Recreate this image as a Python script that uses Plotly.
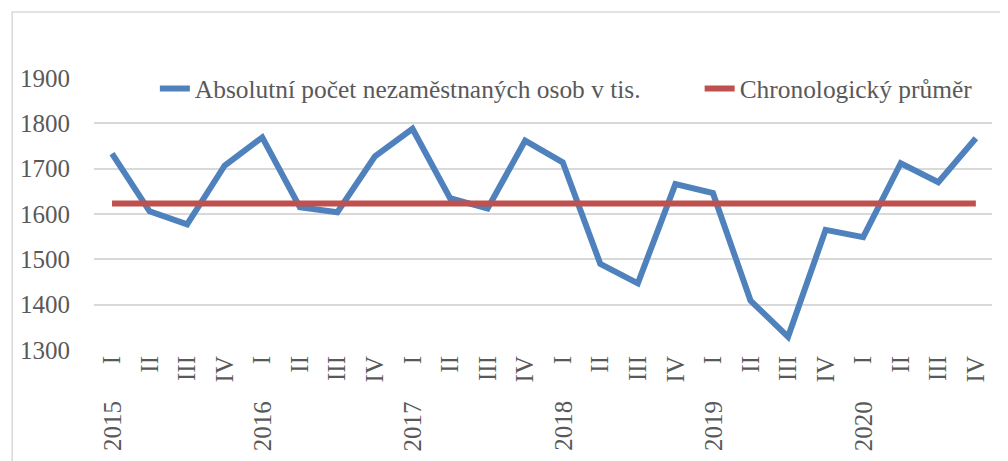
import plotly.graph_objects as go

years = ["2015", "2016", "2017", "2018", "2019", "2020"]
quarters = ["I", "II", "III", "IV"]
unemployed = [1733, 1606, 1577, 1707,
              1769, 1615, 1604, 1727,
              1788, 1635, 1612, 1762,
              1714, 1490, 1447, 1666,
              1646, 1409, 1329, 1565,
              1549, 1712, 1670, 1767]
chrono_mean = 1623

categories = [f"{y} {q}" for y in years for q in quarters]
tick_text = [q for y in years for q in quarters]
mean_series = [chrono_mean] * len(categories)

FONT = "Liberation Serif"
GRAY = "#595959"

# page body has an 8px margin; figure coordinates are screen coordinates minus 8
OFF = 8
W, H = 1008 - OFF, 461 - OFF
L, T, R, B = 92 - OFF, 78 - OFF, 16, 111
pw, ph = W - L - R, H - T - B


def px_x(sx):
    return (sx - OFF - L) / pw


def px_y(sy):
    return 1 - (sy - OFF - T) / ph


fig = go.Figure()
fig.add_trace(go.Scatter(
    x=categories, y=unemployed, mode="lines",
    name="Absolutní počet nezaměstnaných osob v tis.",
    line=dict(color="#4F81BD", width=6), legend="legend",
))
fig.add_trace(go.Scatter(
    x=categories, y=mean_series, mode="lines",
    name="Chronologický průměr",
    line=dict(color="#C0504D", width=6), legend="legend2",
))

for y in years:
    fig.add_annotation(
        x=f"{y} I", xref="x", y=px_y(399), yref="paper",
        text=y, textangle=-90, showarrow=False,
        xanchor="center", yanchor="top",
        font=dict(family=FONT, size=25, color=GRAY),
    )

fig.add_shape(
    type="rect", xref="paper", yref="paper",
    x0=px_x(10), x1=px_x(1030),
    y0=px_y(490), y1=px_y(12),
    line=dict(color="#D9D9D9", width=1.5), fillcolor="rgba(0,0,0,0)", layer="below",
)

legend_common = dict(
    orientation="h", xanchor="left", yanchor="middle",
    bgcolor="rgba(0,0,0,0)", borderwidth=0,
    font=dict(family=FONT, size=25.4, color=GRAY),
)

fig.update_layout(
    width=W, height=H,
    margin=dict(l=L, r=R, t=T, b=B),
    paper_bgcolor="white", plot_bgcolor="white",
    font=dict(family=FONT, size=25, color=GRAY),
    showlegend=True,
    legend=dict(x=px_x(153), y=px_y(89), **legend_common),
    legend2=dict(x=px_x(699), y=px_y(89), **legend_common),
    xaxis=dict(
        type="category", categoryorder="array", categoryarray=categories,
        range=[-0.48, len(categories) - 0.57],
        tickmode="array", tickvals=categories, ticktext=tick_text,
        tickangle=-90, showgrid=False, showline=False, zeroline=False,
        ticks="",
        tickfont=dict(family=FONT, size=25, color=GRAY),
    ),
    yaxis=dict(
        range=[1300, 1900], dtick=100, tick0=1300,
        showgrid=True, gridcolor="#D9D9D9", gridwidth=1.5,
        zeroline=False, showline=False,
        ticks="outside", ticklen=18, tickcolor="rgba(0,0,0,0)",
        tickfont=dict(family=FONT, size=25, color=GRAY),
    ),
)

fig.write_html("out.html")
